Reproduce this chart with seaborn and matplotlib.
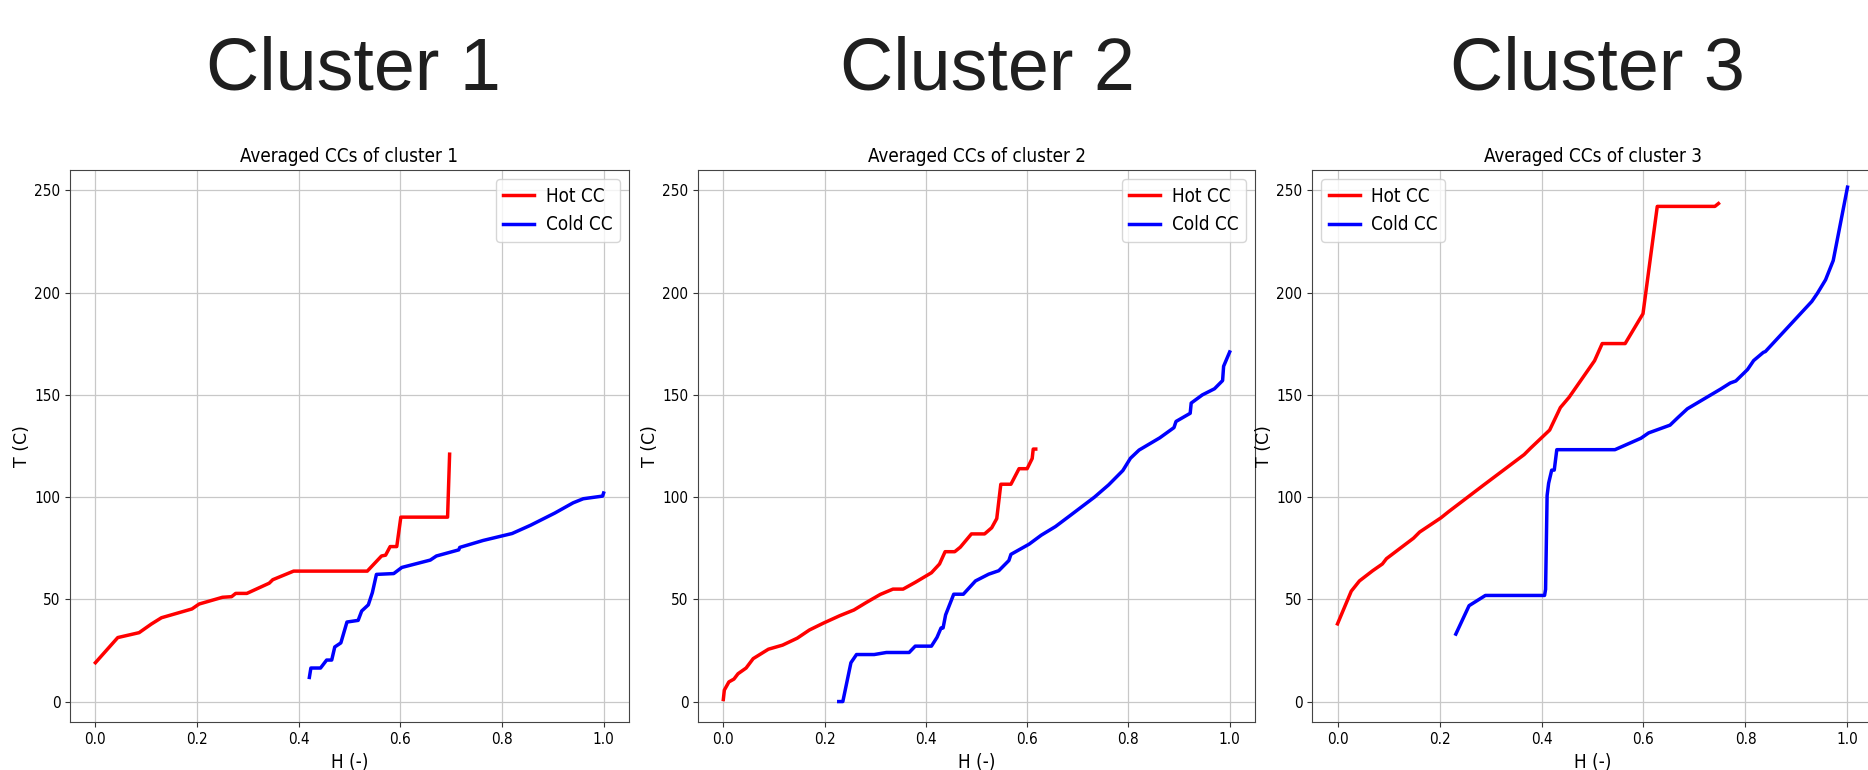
import matplotlib
matplotlib.use("Agg")
import matplotlib.pyplot as plt
import pandas as pd
import seaborn as sns

# valeurs
hot1_h = [0, 0.044, 0.086, 0.11, 0.13, 0.19, 0.204, 0.25, 0.268, 0.276, 0.298, 0.342, 0.349, 0.39,
          0.535, 0.563, 0.571, 0.58, 0.593, 0.601, 0.693, 0.697]
hot1_t = [19, 31.3, 33.7, 37.9, 41, 45.3, 47.7, 51, 51.3, 52.9, 52.9, 57.9, 59.6, 63.8,
          63.8, 71.2, 71.6, 75.8, 75.8, 90.2, 90.2, 121]
cold1_h = [0.421, 0.424, 0.443, 0.455, 0.465, 0.471, 0.483, 0.495, 0.517, 0.524, 0.537, 0.545, 0.553,
           0.587, 0.603, 0.659, 0.671, 0.715, 0.717, 0.763, 0.82, 0.856, 0.904, 0.94, 0.96, 0.998, 1.0]
cold1_t = [11.8, 16.4, 16.4, 20.3, 20.3, 26.7, 28.7, 38.9, 39.7, 44.3, 47.3, 53.3, 62.2,
           62.6, 65.6, 69.2, 71.2, 74.2, 75.4, 78.8, 82.2, 86.2, 92.2, 97.2, 99.2, 100.5, 102]

hot2_h = [0, 0.002, 0.011, 0.021, 0.029, 0.045, 0.059, 0.089, 0.117, 0.146, 0.17, 0.198, 0.23, 0.258,
          0.282, 0.31, 0.335, 0.355, 0.379, 0.411, 0.427, 0.438, 0.457, 0.468, 0.49, 0.516, 0.53,
          0.54, 0.548, 0.568, 0.584, 0.6, 0.61, 0.612, 0.617]
hot2_t = [1, 5.6, 9.6, 11, 13.6, 16.4, 21, 25.6, 27.6, 31, 35, 38.4, 42, 44.8,
          48.4, 52.4, 55, 55, 58.3, 63, 67.3, 73.3, 73.3, 75.5, 82, 82, 85,
          89.5, 106.3, 106.3, 113.9, 113.9, 118.9, 123.5, 123.5]
cold2_h = [0.228, 0.236, 0.252, 0.263, 0.298, 0.322, 0.367, 0.379, 0.411, 0.422, 0.43, 0.434, 0.439,
           0.455, 0.474, 0.498, 0.524, 0.544, 0.564, 0.568, 0.604, 0.628, 0.656, 0.685, 0.733, 0.761,
           0.789, 0.804, 0.821, 0.862, 0.89, 0.894, 0.922, 0.924, 0.946, 0.97, 0.986, 0.988, 1.0]
cold2_t = [0, 0, 19, 23, 23, 24, 24, 27.1, 27.1, 31.4, 36, 36, 42.4,
           52.5, 52.5, 59, 62.3, 64, 69, 72, 77, 81.4, 85.6, 91, 100, 106,
           113, 119, 123, 129, 134, 137, 141, 146, 150, 153, 157, 164, 171]

hot3_h = [0, 0.027, 0.043, 0.069, 0.088, 0.096, 0.149, 0.161, 0.203, 0.218, 0.286, 0.366, 0.378,
          0.416, 0.437, 0.454, 0.504, 0.519, 0.564, 0.599, 0.627, 0.74, 0.747]
hot3_t = [38, 54, 59, 64, 67.3, 69.9, 79.9, 82.9, 89.9, 92.9, 105.8, 120.8, 123.8,
          132.8, 143.8, 148.8, 166.7, 175.1, 175.1, 189.7, 242.2, 242.2, 243.6]
cold3_h = [0.232, 0.258, 0.29, 0.406, 0.408, 0.411, 0.414, 0.42, 0.425, 0.43, 0.544, 0.595, 0.61,
           0.652, 0.667, 0.686, 0.751, 0.77, 0.781, 0.804, 0.816, 0.835, 0.839, 0.93, 0.941, 0.957,
           0.972, 1.0]
cold3_t = [33, 46.9, 51.9, 51.9, 54.9, 100.8, 106.8, 113.2, 113.2, 123.2, 123.2, 128.8, 131.4,
           135.2, 138.8, 143.2, 152.8, 155.8, 156.8, 162.4, 166.8, 170.8, 171.2, 195.7, 199.7, 206.3,
           215.7, 251.6]

clusters = ["Cluster 1", "Cluster 2", "Cluster 3"]
titles = ["Averaged CCs of cluster 1", "Averaged CCs of cluster 2", "Averaged CCs of cluster 3"]
hot = [(hot1_h, hot1_t), (hot2_h, hot2_t), (hot3_h, hot3_t)]
cold = [(cold1_h, cold1_t), (cold2_h, cold2_t), (cold3_h, cold3_t)]
legend_loc = ["upper right", "upper right", "upper left"]

plt.rcParams["font.family"] = ["DejaVu Sans"]
plt.rcParams["font.stretch"] = "condensed"

fig = plt.figure(figsize=(18.68, 7.70), dpi=100)
W, H = 1868, 770
boxes = [(70, 559), (698, 557), (1312, 561)]
centres = [353, 987, 1597]

for i in range(3):
    left, width = boxes[i]
    ax = fig.add_axes([left / W, 48 / H, width / W, 552 / H])
    d_hot = pd.DataFrame({"H": hot[i][0], "T": hot[i][1]})
    d_cold = pd.DataFrame({"H": cold[i][0], "T": cold[i][1]})
    sns.lineplot(data=d_hot, x="H", y="T", color="red", lw=2.5, sort=False, estimator=None,
                 label="Hot CC", ax=ax)
    sns.lineplot(data=d_cold, x="H", y="T", color="blue", lw=2.5, sort=False, estimator=None,
                 label="Cold CC", ax=ax)
    ax.set_ylim(-10, 260)
    ax.set_xlim(-0.05, 1.05)
    ax.set_xticks([0, 0.2, 0.4, 0.6, 0.8, 1.0])
    ax.set_yticks([0, 50, 100, 150, 200, 250])
    ax.grid(True, color="#c8c8c8", lw=0.9)
    ax.set_axisbelow(True)
    ax.tick_params(labelsize=11, color="#333333")
    for s in ax.spines.values():
        s.set_color("#444444")
    ax.set_title(titles[i], fontsize=13.5)
    ax.set_xlabel("H (-)", fontsize=13.5)
    ax.set_ylabel("T (C)", fontsize=12.5, fontstretch="normal", labelpad=2)
    ax.legend(loc=legend_loc[i], fontsize=13.5, handlelength=1.65, handletextpad=0.6)
    fig.text(centres[i] / W, 1 - 90 / H, clusters[i], fontsize=53, family=["Liberation Sans", "DejaVu Sans"],
             fontstretch="normal", ha="center", va="baseline", color="#1f1f1f")

fig.savefig("out.png", dpi=100)
